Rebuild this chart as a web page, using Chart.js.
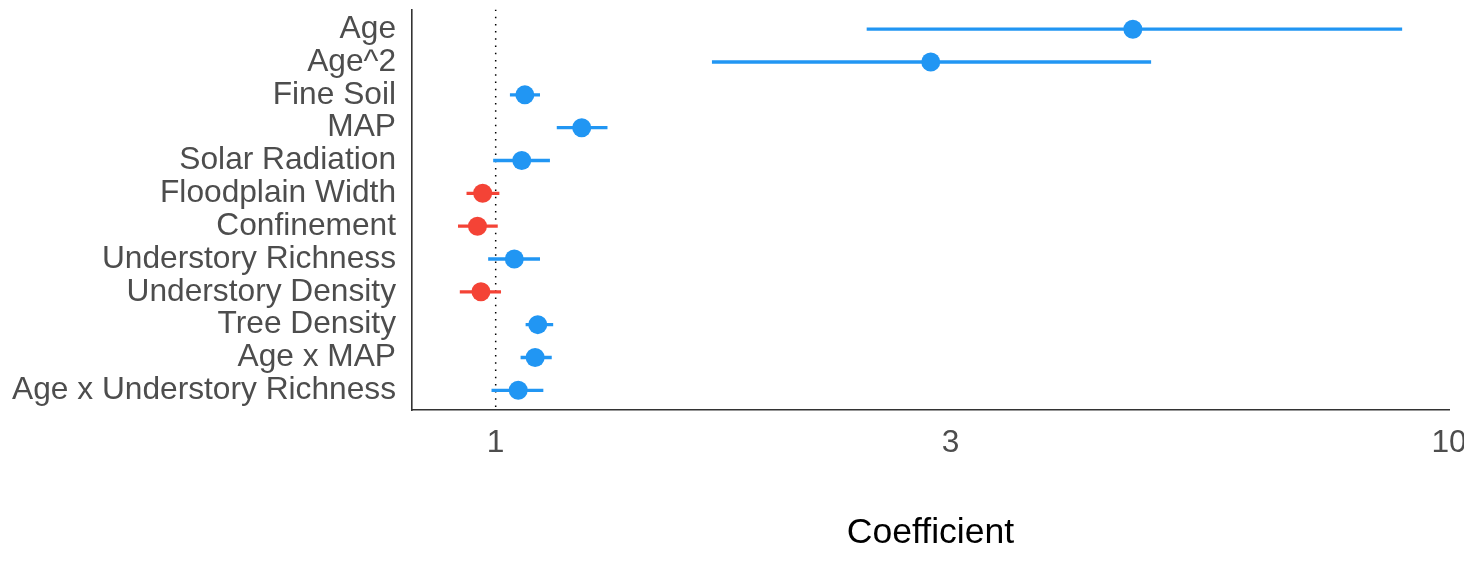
<!DOCTYPE html>
<html>
<head>
<meta charset="utf-8">
<script src="https://cdn.jsdelivr.net/npm/chart.js@4.4.1/dist/chart.umd.min.js"></script>
<style>
  html, body { margin: 0; padding: 0; background: #ffffff; }
  #wrap { width: 1464px; height: 565px; }
</style>
</head>
<body>
<div id="wrap"><canvas id="forest" width="1464" height="565"></canvas></div>
<script>
// Model terms, top to bottom
const terms = [
  "Age", "Age^2", "Fine Soil", "MAP", "Solar Radiation", "Floodplain Width",
  "Confinement", "Understory Richness", "Understory Density", "Tree Density",
  "Age x MAP", "Age x Understory Richness"
];
// Coefficient estimates and confidence limits (ratio scale)
const estimate = [4.66, 2.86, 1.073, 1.231, 1.065, 0.969, 0.957, 1.046, 0.965, 1.107, 1.100, 1.056];
const lower    = [2.45, 1.686, 1.035, 1.159, 0.994, 0.932, 0.913, 0.982, 0.917, 1.075, 1.062, 0.990];
const upper    = [8.93, 4.87, 1.113, 1.310, 1.140, 1.009, 1.005, 1.113, 1.013, 1.149, 1.145, 1.122];
// X-axis tick values
const xTicks = [1, 3, 10];
const refValue = 1;

const BLUE = "#2196F3";
const RED = "#F44336";
const colorFor = v => (v > refValue ? BLUE : RED);

const FONT = "'Liberation Sans', Arial, Helvetica, sans-serif";

const datasets = [];

// Point estimates, drawn on top
datasets.push({
  type: "scatter",
  label: "estimate",
  data: estimate.map((v, i) => ({ x: v, y: i })),
  pointRadius: 9.5,
  pointHoverRadius: 9.5,
  pointBackgroundColor: estimate.map(colorFor),
  pointBorderWidth: 0,
  order: 0
});

// Confidence interval segments
terms.forEach((t, i) => {
  datasets.push({
    type: "line",
    label: t,
    data: [{ x: lower[i], y: i }, { x: upper[i], y: i }],
    borderColor: colorFor(estimate[i]),
    borderWidth: 3.3,
    pointRadius: 0,
    fill: false,
    order: 1
  });
});

// Dotted reference line at a coefficient of 1
datasets.push({
  type: "line",
  label: "reference",
  data: [{ x: refValue, y: -0.6 }, { x: refValue, y: terms.length - 0.4 }],
  borderColor: "#000000",
  borderWidth: 1.5,
  borderDash: [1.5, 5.7],
  pointRadius: 0,
  fill: false,
  order: 2
});

new Chart(document.getElementById("forest"), {
  data: { datasets },
  options: {
    responsive: false,
    animation: false,
    layout: { padding: { top: 7, right: 15, left: 0, bottom: 0 } },
    plugins: { legend: { display: false }, tooltip: { enabled: false } },
    scales: {
      x: {
        type: "logarithmic",
        min: 0.817,
        max: 10,
        grid: { display: false, drawTicks: false },
        border: { display: true, color: "#333333", width: 1.6 },
        afterBuildTicks: s => { s.ticks = xTicks.map(v => ({ value: v })); },
        afterFit: s => { s.height = 155; s.paddingLeft = 0; s.paddingRight = 0; },
        ticks: {
          autoSkip: false,
          maxRotation: 0,
          padding: 14,
          color: "#4D4D4D",
          font: { family: FONT, size: 31.7 },
          callback: v => String(v)
        },
        title: {
          display: true,
          text: "Coefficient",
          color: "#000000",
          font: { family: FONT, size: 35.6 },
          padding: { top: 0, bottom: 10 }
        }
      },
      y: {
        type: "linear",
        reverse: true,
        min: -0.6,
        max: terms.length - 0.4,
        grid: { display: false, drawTicks: false },
        border: { display: true, color: "#333333", width: 1.6 },
        afterBuildTicks: s => { s.ticks = terms.map((t, i) => ({ value: i })); },
        afterFit: s => { s.width = 412; s.paddingTop = 0; s.paddingBottom = 0; },
        ticks: {
          autoSkip: false,
          padding: 16,
          color: "#4D4D4D",
          font: { family: FONT, size: 31.7 },
          callback: v => terms[v]
        }
      }
    }
  }
});
</script>
</body>
</html>
